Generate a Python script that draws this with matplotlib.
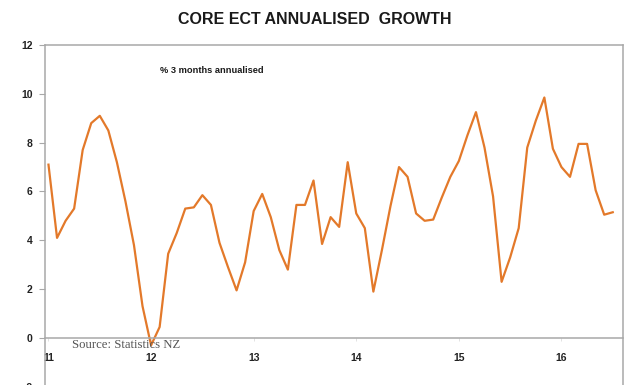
import numpy as np
import matplotlib
matplotlib.use('Agg')
import matplotlib.pyplot as plt
matplotlib.rcParams.update({'font.family': 'Liberation Sans'})

###----------------------------------------------------------------------------
### data: core ECT, % 3 months annualised, monthly Jan 2011 - Jul 2016
growth = [7.1, 4.1, 4.8, 5.3, 7.7, 8.8, 9.1, 8.5, 7.2, 5.6, 3.8, 1.3,
          -0.3, 0.45, 3.45, 4.3, 5.3, 5.35, 5.85, 5.45, 3.9, 2.9, 1.95, 3.1,
          5.2, 5.9, 4.95, 3.6, 2.8, 5.45, 5.45, 6.45, 3.85, 4.95, 4.55, 7.2,
          5.1, 4.5, 1.9, 3.6, 5.4, 7.0, 6.6, 5.1, 4.8, 4.85, 5.75, 6.6,
          7.25, 8.3, 9.25, 7.8, 5.8, 2.3, 3.3, 4.5, 7.8, 8.9, 9.85, 7.75,
          7.0, 6.6, 7.95, 7.95, 6.05, 5.05, 5.15]
year_labels = ['11', '12', '13', '14', '15', '16']
y_ticks = [-2, 0, 2, 4, 6, 8, 10, 12]

title = 'CORE ECT ANNUALISED  GROWTH'
subtitle = '% 3 months annualised'
source = 'Source: Statistics NZ'

###----------------------------------------------------------------------------
months = np.arange(len(growth))
year_pos = np.arange(len(year_labels)) * 12

fig, ax = plt.subplots(figsize=(6.3, 3.85), dpi=100)
ax.set_position([0.0714, -0.0174, 0.9175, 0.9005])

ax.plot(months, growth, '-', color='#E3792A', linewidth=1.6)

ax.set_xlim(-0.41, 67.2)
ax.set_ylim(-2.2, 12)

### spines: grey box, bottom spine sits on zero
grey = '#A8A8A8'
for side in ['left', 'right', 'top', 'bottom']:
    ax.spines[side].set_color(grey)
    ax.spines[side].set_linewidth(1.1)
ax.spines['bottom'].set_position(('data', 0))

ax.set_yticks(y_ticks)
ax.set_yticklabels([str(v) for v in y_ticks])
ax.tick_params(axis='y', direction='out', length=4, width=0.8, color=grey,
               pad=5, labelsize=7.5)
ax.set_xticks(year_pos)
ax.set_xticklabels(year_labels)
ax.tick_params(axis='x', direction='out', length=2, width=0.6, color='#DDDDDD',
               pad=9, labelsize=7.5)
for lab in ax.get_xticklabels() + ax.get_yticklabels():
    lab.set_fontweight('bold')
    lab.set_color('#222222')

fig.text(0.5, 1 - 19 / 385, title, ha='center', va='center',
         fontsize=11.5, fontweight='bold', color='#1A1A1A')
ax.text(13.0, 10.97, subtitle, ha='left', va='center',
        fontsize=6.7, fontweight='bold', color='#1A1A1A')
ax.text(2.7, -0.3, source, ha='left', va='center',
        fontsize=9.2, family='Liberation Serif', color='#555555')

fig.savefig('out.png', dpi=100)
